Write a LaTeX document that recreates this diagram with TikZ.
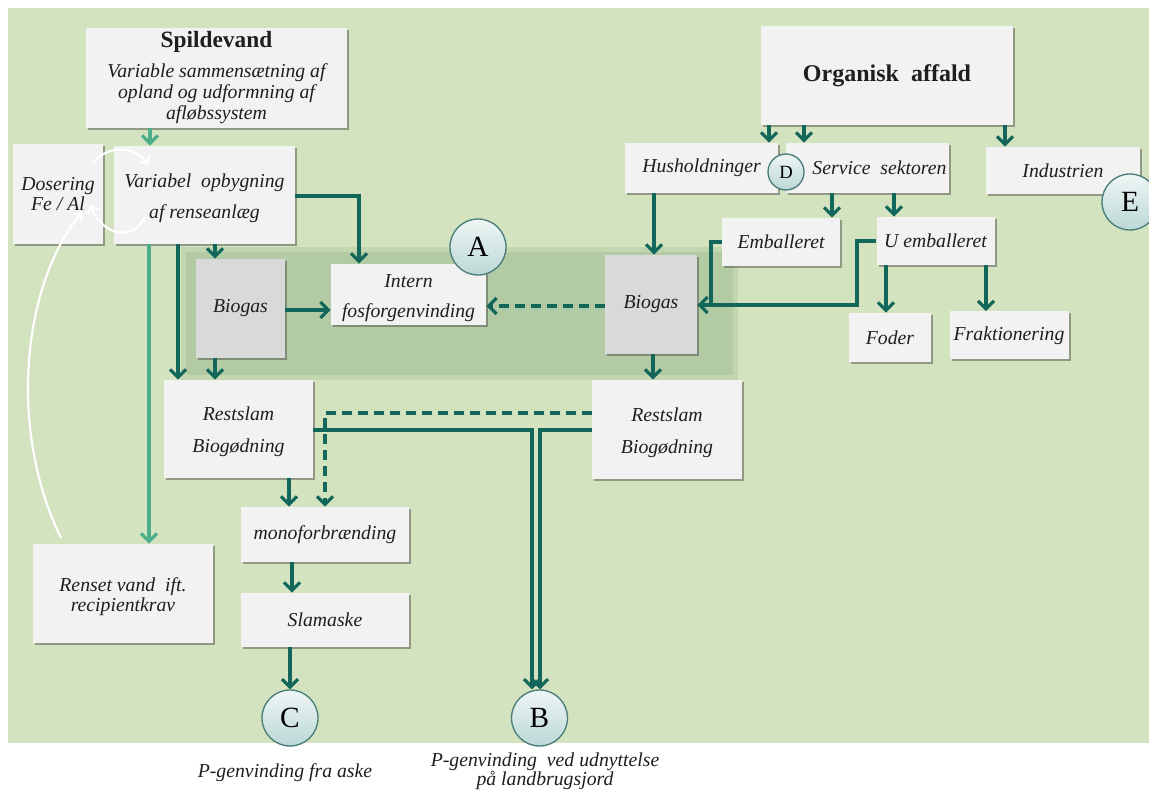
\documentclass[tikz,border=0pt]{standalone}
\usepackage{fontspec}
\setmainfont{Liberation Serif}
\usetikzlibrary{arrows.meta,shadows,calc}
\definecolor{bgg}{HTML}{D4E3BF}
\definecolor{band}{HTML}{B3CBA4}
\definecolor{boxf}{HTML}{F2F2F2}
\definecolor{grayf}{HTML}{D9D9D9}
\definecolor{dk}{HTML}{13665A}
\definecolor{lt}{HTML}{4DAE8A}
\definecolor{cb}{HTML}{4A7C78}
\definecolor{ctop}{HTML}{EEF6F5}
\definecolor{cbot}{HTML}{BBD8D6}
\definecolor{txt}{HTML}{1E1E1E}
\newcommand\itf{\fontsize{14.8}{16}\selectfont\itshape}
\newcommand\up{\rule{0pt}{15pt}}
\begin{document}
\begin{tikzpicture}[x=0.75pt,y=-0.75pt,
  wh/.style 2 args={minimum width=#1*0.75pt,minimum height=#2*0.75pt},
  box/.style={rectangle, fill=boxf, inner sep=1pt, align=center, text=txt, font=\itf,
    drop shadow={shadow xshift=1.5pt, shadow yshift=-1.5pt, opacity=0.45, fill=black!75}},
  gbox/.style={box, fill=grayf},
  circ/.style={circle, draw=cb, line width=1pt, top color=ctop, bottom color=cbot,
    inner sep=0pt, minimum size=56*0.75pt, text=black, font=\fontsize{22}{22}\selectfont},
  arr/.style={draw=dk, line width=2.4pt, -{Straight Barb[length=6pt,width=12pt]}},
  larr/.style={arr, draw=lt},
  ln/.style={draw=dk, line width=2.4pt},
  dsh/.style={dash pattern=on 7pt off 5pt},
  warr/.style={draw=white, line width=1.6pt, -{Straight Barb[length=4.5pt,width=9pt]}},
  lbl/.style={align=center, text=txt, font=\itf, inner sep=0pt}
]
\useasboundingbox (0,0) rectangle (1149,791);
\fill[white] (0,0) rectangle (1149,791);
\fill[bgg] (8,8) rectangle (1149,743);
% darker band
\fill[band!55!bgg] (181,247) rectangle (738,380);
\fill[band] (186,252) rectangle (733,375);

% boxes
\node[box, wh={261}{100}] (sp) at (216.5,78)
  {{\fontsize{17.5}{20}\selectfont\bfseries\upshape Spildevand}\\[6pt]
   Variable sammensætning af\\ opland og udformning af\\ afløbssystem};
\node[box, wh={90}{100}] (dos) at (58,194) {Dosering\\[-1.5pt] Fe / Al};
\node[box, wh={181}{98}] (var) at (204.5,195) {\up Variabel\ \ opbygning\\[7pt] af renseanlæg};
\node[gbox, wh={89}{99}] (bgL) at (240.5,308.5) {Biogas};
\node[box, wh={155}{61}] (intern) at (408.5,294.5) {\up Intern\\[7pt] fosforgenvinding};
\node[gbox, wh={92}{99}] (bgR) at (651,304.5) {Biogas};
\node[box, wh={149}{98}] (rsL) at (238.5,429) {\up Restslam\\[8pt] Biogødning};
\node[box, wh={150}{99}] (rsR) at (667,429.5) {\up Restslam\\[8pt] Biogødning};
\node[box, wh={168}{55}] (mono) at (325,534.5) {monoforbrænding};
\node[box, wh={168}{54}] (slam) at (325,620) {Slamaske};
\node[box, wh={180}{99}] (renset) at (123,593.5) {\up Renset vand\ \ ift.\\[-1pt] recipientkrav};
\node[box, wh={252}{99}] (org) at (887,75.5)
  {{\fontsize{18}{20}\selectfont\bfseries\upshape Organisk\ \ affald}};
\node[box, wh={153}{50}] (hush) at (701.5,168) {Husholdninger};
\node[box, wh={163}{50}] (serv) at (867.5,168) {\hspace{18pt}Service\ \ sektoren};
\node[box, wh={154}{47}] (ind) at (1063,170.5) {Industrien};
\node[box, wh={118}{48}] (emb) at (781,242) {Emballeret};
\node[box, wh={118}{48}] (uemb) at (935.5,241) {U emballeret};
\node[box, wh={82}{49}] (foder) at (890,337.5) {Foder};
\node[box, wh={119}{48}] (frak) at (1009,335.5) {Fraktionering};

% circles
\node[circ] (A) at (478,247) {A};
\node[circ] (B) at (539.5,718) {B};
\node[circ] (C) at (290,718) {C};
\node[circ, minimum size=36*0.75pt, font=\fontsize{14}{14}\selectfont] (D) at (786,172) {D};
\node[circ] (E) at (1130,202) {E};

% bottom labels
\node[lbl] (lC) at (285,773) {P-genvinding fra aske};
\node[lbl] (lB) at (545,771) {P-genvinding\ \ ved udnyttelse\\[-2pt] på landbrugsjord};

% connectors, left part
\draw[larr] (sp.south -| 150,0) -- (var.north -| 150,0);
\draw[larr] (var.south -| 149,0) -- (renset.north -| 149,0);
\draw[arr] (var.south -| 178,0) -- (rsL.north -| 178,0);
\draw[arr] (var.south -| 215,0) -- (bgL.north -| 215,0);
\draw[arr] (var.east |- 0,196) -| (intern.north -| 359,0);
\draw[arr] (bgL.east |- 0,310) -- (intern.west |- 0,310);
\draw[arr] (bgL.south -| 215,0) -- (rsL.north -| 215,0);
\draw[arr, dsh] (bgR.west |- 0,306) -- (intern.east |- 0,306);
\draw[arr] (rsL.south -| 289,0) -- (mono.north -| 289,0);
\draw[arr] (mono.south -| 292,0) -- (slam.north -| 292,0);
\draw[arr] (slam.south -| 290,0) -- (C.north);
\draw[arr, dsh] (rsR.west |- 0,413) -| (mono.north -| 325,0);
\draw[arr] (rsL.east |- 0,430) -| (B.north -| 532,0);
\draw[arr] (rsR.west |- 0,430) -| (B.north -| 540,0);

% connectors, right part
\draw[arr] (org.south -| 769,0) -- (hush.north -| 769,0);
\draw[arr] (org.south -| 804,0) -- (serv.north -| 804,0);
\draw[arr] (org.south -| 1005,0) -- (ind.north -| 1005,0);
\draw[arr] (hush.south -| 654,0) -- (bgR.north -| 654,0);
\draw[arr] (serv.south -| 832,0) -- (emb.north -| 832,0);
\draw[arr] (serv.south -| 894,0) -- (uemb.north -| 894,0);
\draw[ln] (emb.west) -| (711,305);
\draw[arr] (uemb.west) -| (857,305) -- (bgR.east |- 0,305);
\draw[arr] (uemb.south -| 886,0) -- (foder.north -| 886,0);
\draw[arr] (uemb.south -| 986,0) -- (frak.north -| 986,0);
\draw[arr] (bgR.south -| 653,0) -- (rsR.north -| 653,0);

% white curved arrows
\coordinate (w1a) at (93,163);
\coordinate (w1b) at (148,165);
\coordinate (w2a) at (145,217);
\coordinate (w2b) at (90,205);
\coordinate (w3a) at (61,538);
\coordinate (w3b) at (82,212);
\draw[warr] (w1a) .. controls (108,144) and (136,146) .. (w1b);
\draw[warr] (w2a) .. controls (134,240) and (104,238) .. (w2b);
\draw[warr] (w3a) .. controls (8,430) and (22,285) .. (w3b);
\end{tikzpicture}
\end{document}
